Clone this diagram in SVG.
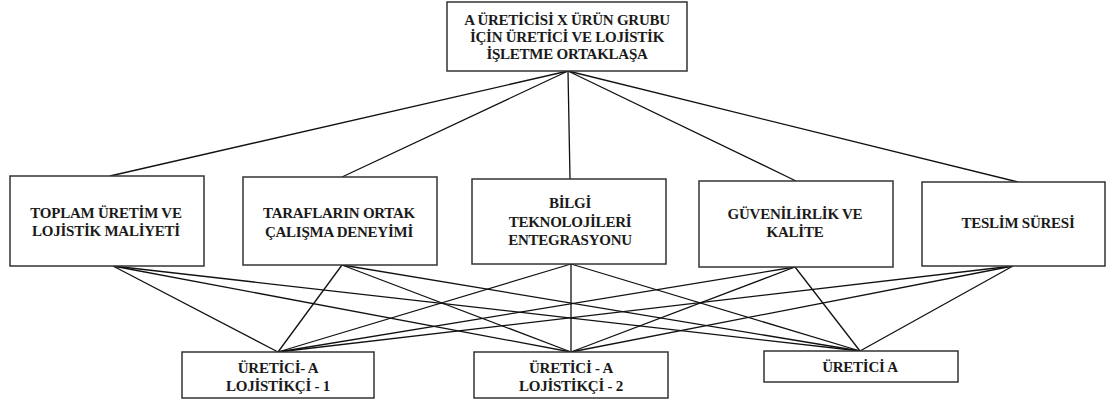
<svg xmlns="http://www.w3.org/2000/svg" width="1108" height="400" viewBox="0 0 1108 400">
<style>
.box{fill:#fff;stroke:#333;stroke-width:1.5}
.t{font-family:"Liberation Serif","Times New Roman",serif;font-weight:bold;font-size:15px;letter-spacing:-0.25px;fill:#1a1a1a;text-anchor:middle}
.c line{stroke:#111;stroke-width:1.3}
</style>
<rect width="1108" height="400" fill="#fff"/>
<g class="c" id="connectors">
<line x1="568" y1="71" x2="110" y2="176"/>
<line x1="568" y1="71" x2="342" y2="177"/>
<line x1="568" y1="71" x2="570" y2="179"/>
<line x1="568" y1="71" x2="796" y2="181"/>
<line x1="568" y1="71" x2="1018" y2="182"/>
<line x1="113" y1="266" x2="278" y2="352"/>
<line x1="113" y1="266" x2="571" y2="352"/>
<line x1="113" y1="266" x2="860" y2="351"/>
<line x1="342" y1="265" x2="278" y2="352"/>
<line x1="342" y1="265" x2="571" y2="352"/>
<line x1="342" y1="265" x2="860" y2="351"/>
<line x1="571" y1="264" x2="278" y2="352"/>
<line x1="571" y1="264" x2="571" y2="352"/>
<line x1="571" y1="264" x2="860" y2="351"/>
<line x1="795" y1="267" x2="278" y2="352"/>
<line x1="795" y1="267" x2="571" y2="352"/>
<line x1="795" y1="267" x2="860" y2="351"/>
<line x1="1013" y1="266" x2="278" y2="352"/>
<line x1="1013" y1="266" x2="571" y2="352"/>
<line x1="1013" y1="266" x2="860" y2="351"/>
</g>
<g id="goal">
<rect class="box" x="447" y="2" width="240" height="69"/>
<text class="t" x="567" y="25">A ÜRETİCİSİ X ÜRÜN  GRUBU</text>
<text class="t" x="567" y="42">İÇİN ÜRETİCİ VE LOJİSTİK</text>
<text class="t" x="567" y="59">İŞLETME ORTAKLAŞA</text>
</g>
<g id="c1">
<rect class="box" x="10" y="176" width="194" height="90"/>
<text class="t" x="106" y="218">TOPLAM ÜRETİM VE</text>
<text class="t" x="106" y="236">LOJİSTİK MALİYETİ</text>
</g>
<g id="c2">
<rect class="box" x="243" y="177" width="194" height="88"/>
<text class="t" x="339" y="218">TARAFLARIN ORTAK</text>
<text class="t" x="339" y="237">ÇALIŞMA DENEYİMİ</text>
</g>
<g id="c3">
<rect class="box" x="472" y="179" width="194" height="85"/>
<text class="t" x="570" y="208">BİLGİ</text>
<text class="t" x="570" y="227">TEKNOLOJİLERİ</text>
<text class="t" x="570" y="245">ENTEGRASYONU</text>
</g>
<g id="c4">
<rect class="box" x="699" y="181" width="194" height="86"/>
<text class="t" x="795" y="219">GÜVENİLİRLİK VE</text>
<text class="t" x="795" y="237">KALİTE</text>
</g>
<g id="c5">
<rect class="box" x="922" y="182" width="183" height="84"/>
<text class="t" x="1018" y="228">TESLİM SÜRESİ</text>
</g>
<g id="a1">
<rect class="box" x="182" y="352" width="192" height="46"/>
<text class="t" x="278" y="373">ÜRETİCİ- A</text>
<text class="t" x="278" y="391">LOJİSTİKÇİ - 1</text>
</g>
<g id="a2">
<rect class="box" x="474" y="352" width="194" height="46"/>
<text class="t" x="571" y="373">ÜRETİCİ - A</text>
<text class="t" x="571" y="391">LOJİSTİKÇİ - 2</text>
</g>
<g id="a3">
<rect class="box" x="764" y="351" width="194" height="31"/>
<text class="t" x="860" y="372">ÜRETİCİ A</text>
</g>
</svg>
